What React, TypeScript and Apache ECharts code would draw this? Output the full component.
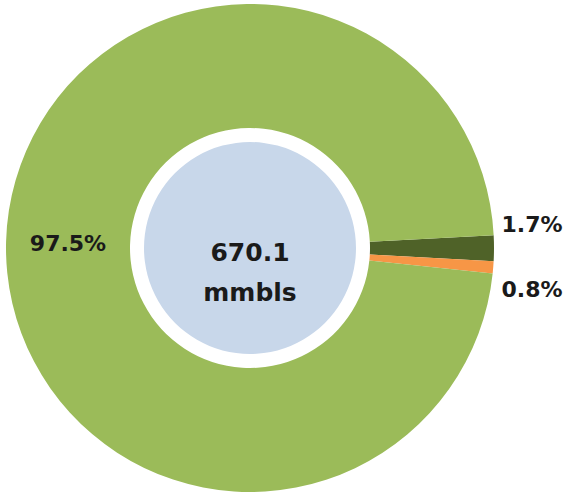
import React, { useEffect, useRef } from "react";
import * as echarts from "echarts";

// Share of volume by category (percent)
const categories = ["Category B", "Category C", "Category A"];
const shares = [1.7, 0.8, 97.5];
const sliceColors = ["#4f6228", "#f79646", "#9bbb59"];

// Total shown in the centre
const totalValue = 670.1;
const totalUnit = "mmbls";

// Where each slice's percentage label sits
const labelSpots = [
  { x: 532, y: 224 },
  { x: 532, y: 289 },
  { x: 68, y: 243 },
];

const FONT = "DejaVu Sans";

export default function App() {
  const ref = useRef<HTMLDivElement>(null);

  useEffect(() => {
    if (!ref.current) return;
    const chart = echarts.init(ref.current, null, { renderer: "svg" });
    chart.setOption({
      animation: false,
      backgroundColor: "#ffffff",
      graphic: shares.map((v, i) => ({
        type: "text",
        x: labelSpots[i].x,
        y: labelSpots[i].y,
        z: 10,
        style: {
          text: `${v}%`,
          fontFamily: FONT,
          fontWeight: "bold",
          fontSize: 22,
          fill: "#1a1a1a",
          align: "center",
          verticalAlign: "middle",
        },
      })),
      series: [
        {
          type: "pie",
          center: [250, 248],
          radius: [120, 244],
          startAngle: 3,
          clockwise: true,
          silent: true,
          itemStyle: { borderWidth: 0 },
          label: { show: false },
          labelLine: { show: false },
          data: categories.map((name, i) => ({
            name,
            value: shares[i],
            itemStyle: { color: sliceColors[i] },
          })),
        },
        {
          type: "pie",
          center: [250, 248],
          radius: [0, 106],
          silent: true,
          itemStyle: { color: "#c8d7ea" },
          label: {
            show: true,
            position: "center",
            offset: [0, 24],
            formatter: (p: any) => `${p.value}\n${totalUnit}`,
            fontFamily: FONT,
            fontWeight: "bold",
            fontSize: 25,
            lineHeight: 40,
            color: "#1a1a1a",
          },
          labelLine: { show: false },
          data: [{ name: totalUnit, value: totalValue }],
        },
      ],
    });
    return () => chart.dispose();
  }, []);

  return (
    <div
      ref={ref}
      style={{ position: "absolute", left: 0, top: 0, width: 565, height: 497 }}
    />
  );
}
